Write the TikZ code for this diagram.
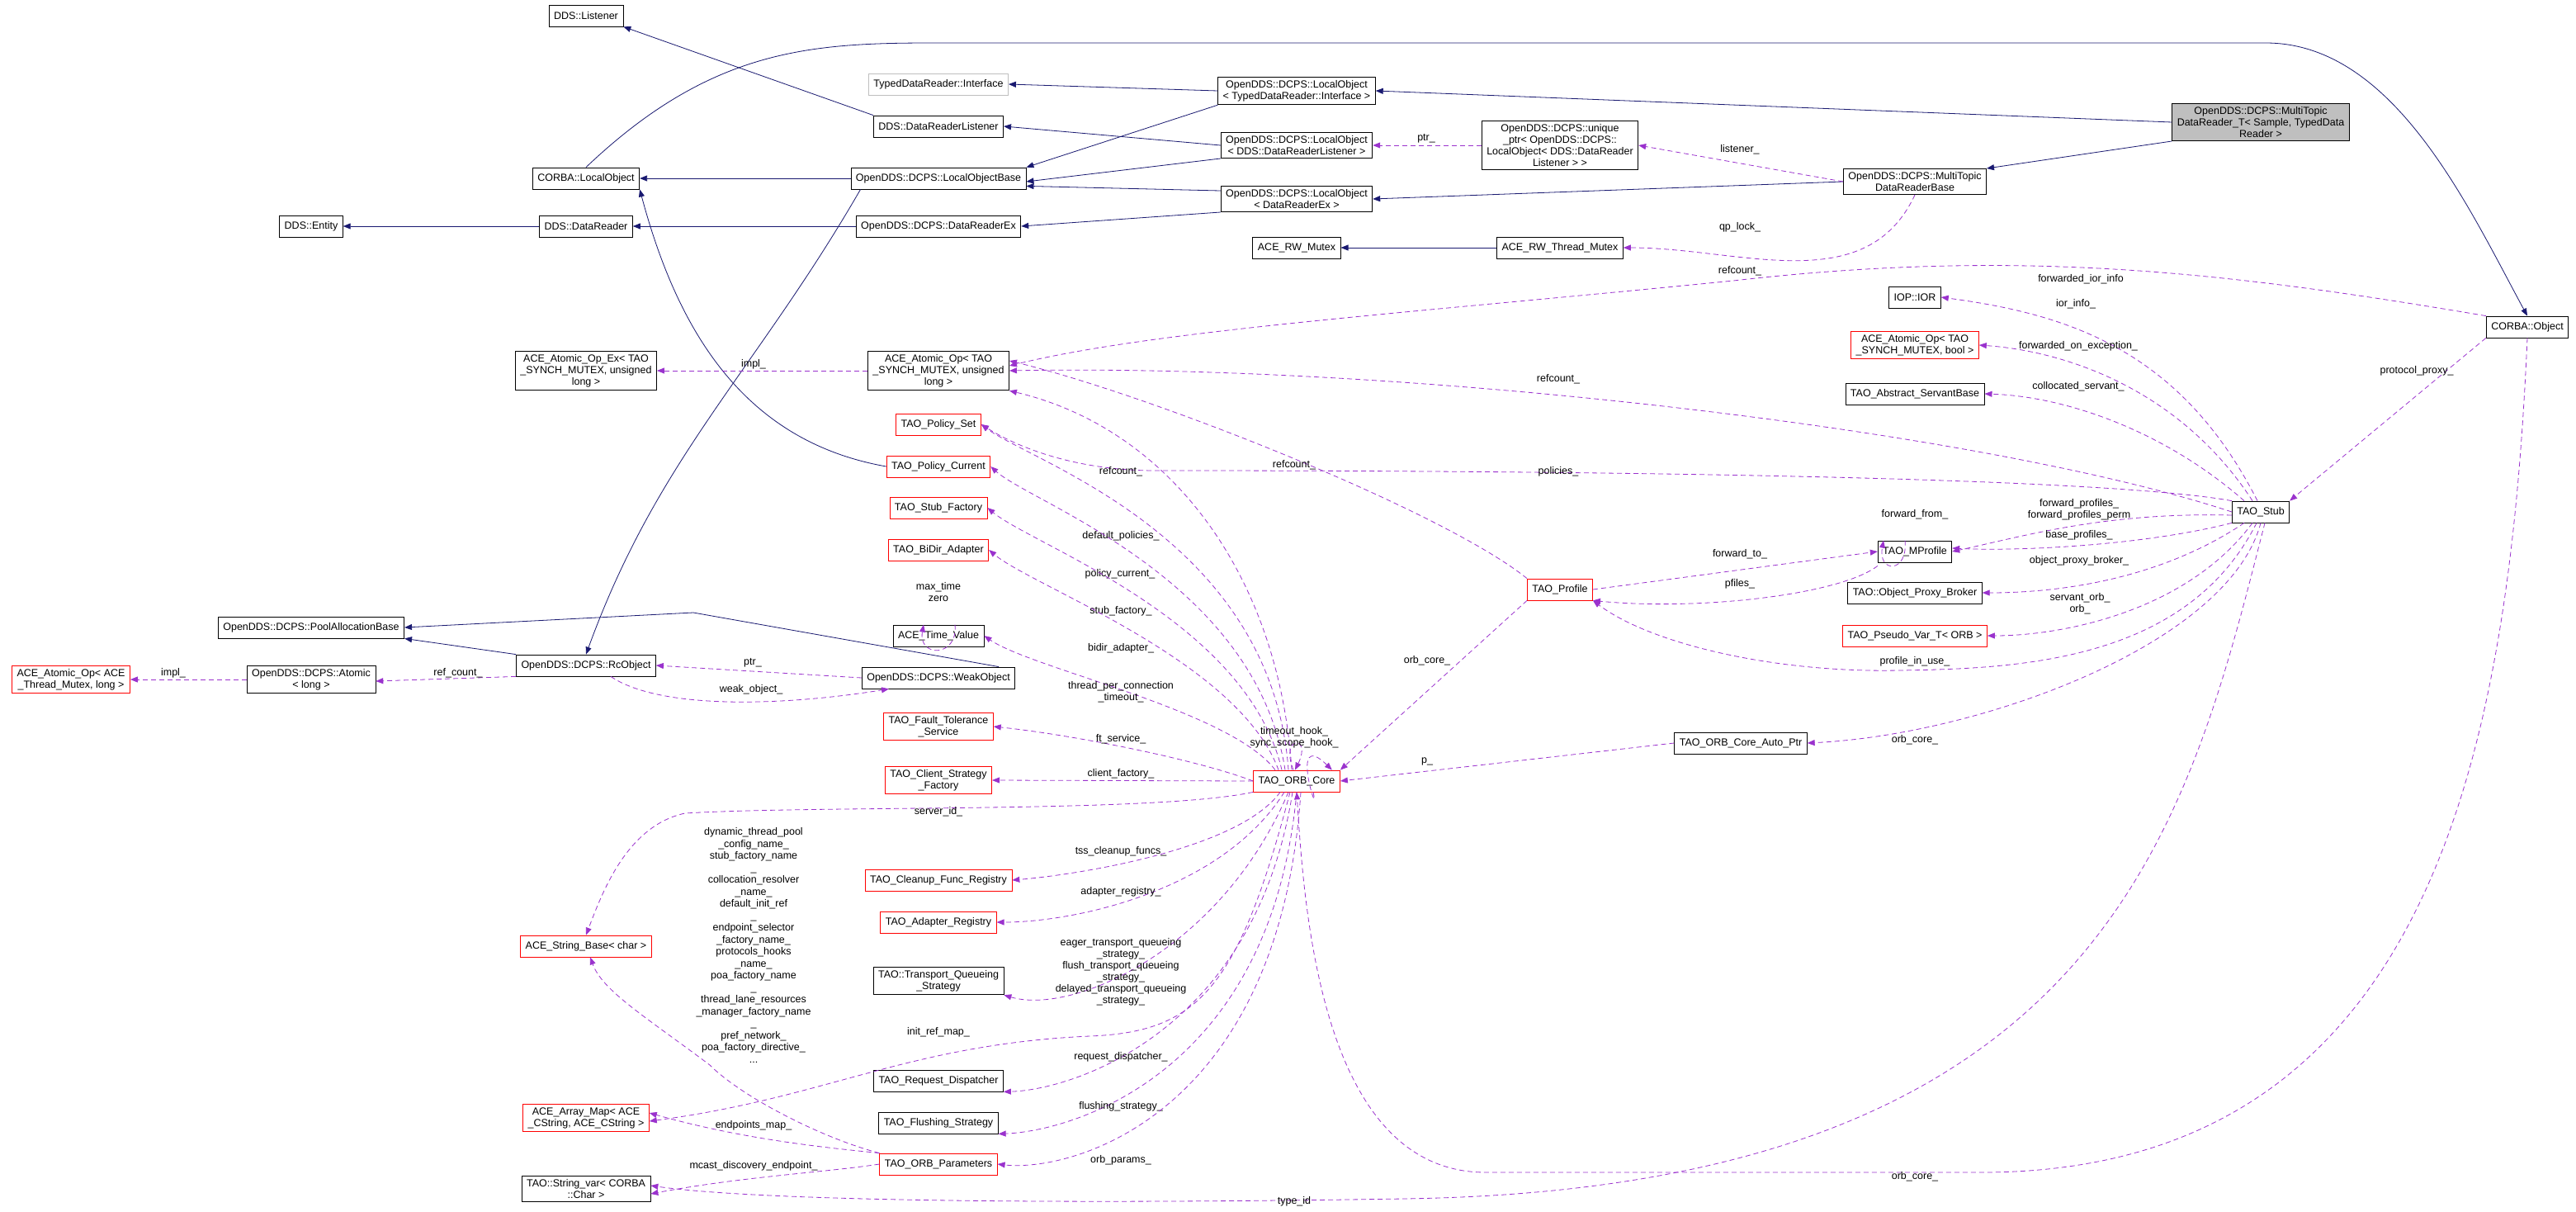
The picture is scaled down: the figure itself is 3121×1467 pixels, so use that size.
\documentclass[tikz,border=0pt]{standalone}
\usepackage{fontspec}
\setmainfont{Liberation Sans}
\usetikzlibrary{arrows.meta}
\definecolor{inhcol}{HTML}{191970}
\definecolor{usecol}{HTML}{9A32CD}
\begin{document}
\begin{tikzpicture}[x=1pt,y=-1pt,
  every node/.style={font=\fontsize{12.5}{14}\selectfont},
  cls/.style={draw=black,fill=white,thick,minimum height=26pt,inner xsep=6pt,inner ysep=4pt,align=center},
  redcls/.style={cls,draw=red},
  greycls/.style={cls,draw=black!25},
  inh/.style={draw=inhcol,thick,-{Triangle[length=9pt,width=7pt]}},
  use/.style={draw=usecol,thick,dashed,dash pattern=on 6pt off 4pt,-{Triangle[length=9pt,width=7pt]}},
  lbl/.style={align=center,inner sep=1pt}]
\useasboundingbox (0,0) rectangle (3121,1467);

% classes
\node[cls] (listener) at (710,19) {DDS::Listener};
\node[greycls] (tdrif) at (1137,102) {TypedDataReader::Interface};
\node[cls] (drlistener) at (1137,153) {DDS::DataReaderListener};
\node[cls] (localobj) at (710,216) {CORBA::LocalObject};
\node[cls] (lobase) at (1137,216) {OpenDDS::DCPS::LocalObjectBase};
\node[cls] (entity) at (377,274) {DDS::Entity};
\node[cls] (datareader) at (710,274) {DDS::DataReader};
\node[cls] (drex) at (1137,274) {OpenDDS::DCPS::DataReaderEx};
\node[cls] (atomicex) at (710,449) {ACE\_Atomic\_Op\_Ex< TAO\\\_SYNCH\_MUTEX, unsigned\\ long >};
\node[cls] (atomicul) at (1137,449) {ACE\_Atomic\_Op< TAO\\\_SYNCH\_MUTEX, unsigned\\ long >};
\node[cls] (lotdr) at (1571,110) {OpenDDS::DCPS::LocalObject\\< TypedDataReader::Interface >};
\node[cls] (lodrl) at (1571,176) {OpenDDS::DCPS::LocalObject\\< DDS::DataReaderListener >};
\node[cls] (lodrex) at (1571,241) {OpenDDS::DCPS::LocalObject\\< DataReaderEx >};
\node[cls] (uniqptr) at (1890,176) {OpenDDS::DCPS::unique\\\_ptr< OpenDDS::DCPS::\\LocalObject< DDS::DataReader\\Listener > >};
\node[cls] (mtbase) at (2320,220) {OpenDDS::DCPS::MultiTopic\\DataReaderBase};
\node[cls] (rwmutex) at (1571,300) {ACE\_RW\_Mutex};
\node[cls] (rwtmutex) at (1890,300) {ACE\_RW\_Thread\_Mutex};
\node[cls] (ior) at (2320,360) {IOP::IOR};
\node[redcls] (atomicbool) at (2320,418) {ACE\_Atomic\_Op< TAO\\\_SYNCH\_MUTEX, bool >};
\node[cls] (servantbase) at (2320,477) {TAO\_Abstract\_ServantBase};
\node[cls,fill=black!25] (mtreader) at (2739,148) {OpenDDS::DCPS::MultiTopic\\DataReader\_T< Sample, TypedData\\Reader >};
\node[cls] (corbaobj) at (3062,396) {CORBA::Object};
\node[cls] (stub) at (2739,620) {TAO\_Stub};
\node[redcls] (policyset) at (1137,514) {TAO\_Policy\_Set};
\node[redcls] (policycur) at (1137,565) {TAO\_Policy\_Current};
\node[redcls] (stubfac) at (1137,615) {TAO\_Stub\_Factory};
\node[redcls] (bidir) at (1137,666) {TAO\_BiDir\_Adapter};
\node[cls] (timeval) at (1137,770) {ACE\_Time\_Value};
\node[cls] (poolalloc) at (377,760) {OpenDDS::DCPS::PoolAllocationBase};
\node[redcls] (acelong) at (86,823) {ACE\_Atomic\_Op< ACE\\\_Thread\_Mutex, long >};
\node[cls] (atomiclong) at (377,823) {OpenDDS::DCPS::Atomic\\< long >};
\node[cls] (rcobj) at (710,806) {OpenDDS::DCPS::RcObject};
\node[cls] (weakobj) at (1137,821) {OpenDDS::DCPS::WeakObject};
\node[redcls] (ftservice) at (1137,880) {TAO\_Fault\_Tolerance\\\_Service};
\node[redcls] (clientfac) at (1137,945) {TAO\_Client\_Strategy\\\_Factory};
\node[redcls] (strbase) at (710,1146) {ACE\_String\_Base< char >};
\node[redcls] (cleanup) at (1137,1066) {TAO\_Cleanup\_Func\_Registry};
\node[redcls] (adapterreg) at (1137,1117) {TAO\_Adapter\_Registry};
\node[cls] (tqstrategy) at (1137,1188) {TAO::Transport\_Queueing\\\_Strategy};
\node[cls] (reqdisp) at (1137,1309) {TAO\_Request\_Dispatcher};
\node[cls] (flushstrat) at (1137,1360) {TAO\_Flushing\_Strategy};
\node[redcls] (orbparams) at (1137,1410) {TAO\_ORB\_Parameters};
\node[redcls] (arraymap) at (710,1354) {ACE\_Array\_Map< ACE\\\_CString, ACE\_CString >};
\node[cls] (stringvar) at (710,1440) {TAO::String\_var< CORBA\\::Char >};
\node[redcls] (orbcore) at (1571,946) {TAO\_ORB\_Core};
\node[redcls] (profile) at (1890,714) {TAO\_Profile};
\node[cls] (mprofile) at (2320,668) {TAO\_MProfile};
\node[cls] (proxybroker) at (2320,718) {TAO::Object\_Proxy\_Broker};
\node[redcls] (pseudovar) at (2320,770) {TAO\_Pseudo\_Var\_T< ORB >};
\node[cls] (autoptr) at (2109,900) {TAO\_ORB\_Core\_Auto\_Ptr};

% inheritance
\draw[inh] (drlistener.north west) -- (listener.south east);
\draw[inh] (lobase) -- (localobj);
\draw[inh] (localobj.north) .. controls (860,60) and (980,52) .. (1130,52) -- (2745,52) .. controls (2900,52) and (2990,250) .. (corbaobj.north);
\draw[inh] (datareader) -- (entity);
\draw[inh] (drex) -- (datareader);
\draw[inh] (lotdr.west) -- (tdrif.east);
\draw[inh] (lotdr.south west) -- (lobase.north east);
\draw[inh] (lodrl.west) -- (drlistener.east);
\draw[inh] (lodrl.south west) -- ([yshift=-4pt]lobase.east);
\draw[inh] ([yshift=-6pt]lodrex.north west) -- ([yshift=4pt]lobase.south east);
\draw[inh] (lodrex.south west) -- (drex.east);
\draw[inh] (mtbase.west) -- (lodrex.east);
\draw[inh] (mtreader.west) -- (lotdr.east);
\draw[inh] (mtreader.south west) -- (mtbase.north east);
\draw[inh] (rwtmutex) -- (rwmutex);
\draw[inh] ([xshift=12pt]lobase.south west) to[out=-120,in=70] (rcobj.north);
\draw[inh] (policycur.west) to[out=170,in=-75] (localobj.south east);
\draw[inh] (rcobj.north west) -- (poolalloc.south east);
\draw[inh] ([xshift=-20pt]weakobj.north east) -- (840,742) -- (poolalloc.east);

% members
\draw[use] (atomicul) -- (atomicex);
\node[lbl] (limpl) at (913,441) {impl\_};
\draw[use] (uniqptr) -- (lodrl);
\node[lbl] (lptr) at (1728,168) {ptr\_};
\draw[use] (mtbase.west) -- (uniqptr.east);
\node[lbl] (llistener) at (2108,181) {listener\_};
\draw[use] (mtbase.south) to[out=-115,in=0] (rwtmutex.east);
\node[lbl] (lqplock) at (2108,275) {qp\_lock\_};
\draw[use] (corbaobj.north west) .. controls (2700,330) and (2450,300) .. (2100,340) .. controls (1700,380) and (1400,400) .. ([yshift=6pt]atomicul.east);
\node[lbl] (lrefc1) at (2108,328) {refcount\_};
\draw[use] (stub.west) .. controls (2400,520) and (1700,440) .. (atomicul.east);
\node[lbl] (lrefc2) at (1888,459) {refcount\_};
\draw[use] ([xshift=-4pt]stub.north) .. controls (2640,420) and (2500,380) .. (ior.east);
\node[lbl] (lfwdior) at (2521,338) {forwarded\_ior\_info};
\node[lbl] (lior) at (2515,368) {ior\_info\_};
\draw[use] ([xshift=-10pt]stub.north) .. controls (2640,470) and (2500,425) .. (atomicbool.east);
\node[lbl] (lfwdexc) at (2518,419) {forwarded\_on\_exception\_};
\draw[use] ([xshift=-20pt]stub.north) .. controls (2620,520) and (2500,480) .. (servantbase.east);
\node[lbl] (lcoll) at (2518,468) {collocated\_servant\_};
\draw[use] (stub.north west) .. controls (2500,570) and (1600,570) .. (1400,570) .. controls (1300,570) and (1230,540) .. (policyset.east);
\node[lbl] (lpolicies) at (1888,571) {policies\_};
\draw[use] ([yshift=-4pt]stub.west) .. controls (2550,620) and (2450,650) .. (mprofile.east);
\node[lbl] (lfwdprof) at (2519,617) {forward\_profiles\_\\forward\_profiles\_perm};
\draw[use] (stub.south west) .. controls (2600,660) and (2450,668) .. ([yshift=4pt]mprofile.east);
\node[lbl] (lbaseprof) at (2519,648) {base\_profiles\_};
\draw[use] ([xshift=-20pt]stub.south) .. controls (2620,700) and (2500,718) .. (proxybroker.east);
\node[lbl] (lproxy) at (2519,679) {object\_proxy\_broker\_};
\draw[use] ([xshift=-10pt]stub.south) .. controls (2650,740) and (2500,770) .. (pseudovar.east);
\node[lbl] (lservorb) at (2520,731) {servant\_orb\_\\orb\_};
\draw[use] ([xshift=-5pt]stub.south) .. controls (2650,800) and (2450,810) .. (2300,812) .. controls (2150,815) and (2000,780) .. (profile.south east);
\node[lbl] (lprofuse) at (2320,801) {profile\_in\_use\_};
\draw[use] (corbaobj.south west) -- (stub.north east);
\node[lbl] (lprotproxy) at (2928,449) {protocol\_proxy\_};
\draw[use] (stub.south) .. controls (2700,780) and (2400,890) .. (autoptr.east);
\node[lbl] (lorbcore3) at (2320,896) {orb\_core\_};
\draw[use] ([xshift=5pt]stub.south) .. controls (2650,1000) and (2550,1440) .. (1700,1452) .. controls (1200,1460) and (900,1452) .. ([yshift=4pt]stringvar.east);
\node[lbl] (ltypeid) at (1568,1455) {type\_id};
\draw[use] (corbaobj.south) .. controls (3040,900) and (2950,1420) .. (2400,1420) -- (1800,1420) .. controls (1600,1420) and (1580,1100) .. (orbcore.south);
\node[lbl] (lorbcore4) at (2320,1425) {orb\_core\_};
\draw[use] (profile.east) -- (mprofile.west);
\node[lbl] (lfwdto) at (2108,671) {forward\_to\_};
\draw[use] ([yshift=-4pt]mprofile.south west) .. controls (2230,720) and (2060,740) .. (profile.south east);
\node[lbl] (lpfiles) at (2108,707) {pfiles\_};
\draw[use] ([xshift=-12pt]mprofile.north) .. controls ([xshift=-8pt,yshift=-40pt]mprofile.north) and ([xshift=-45pt,yshift=-40pt]mprofile.north) .. ([xshift=-38pt]mprofile.north);
\node[lbl] (lfwdfrom) at (2320,623) {forward\_from\_};
\draw[use] (profile.south west) -- (orbcore.north east);
\node[lbl] (lorbcore1) at (1729,800) {orb\_core\_};
\draw[use] (autoptr.west) -- (orbcore.east);
\node[lbl] (lp) at (1729,922) {p\_};
\draw[use] (profile.north west) .. controls (1750,620) and (1400,480) .. ([yshift=12pt]atomicul.east);
\node[lbl] (lrefc3) at (1568,563) {refcount\_};
\draw[use] ([xshift=-6pt]orbcore.north) .. controls (1550,700) and (1420,520) .. (atomicul.south east);
\node[lbl] (lrefc4) at (1358,571) {refcount\_};
\draw[use] ([xshift=-10pt]orbcore.north) .. controls (1540,650) and (1250,560) .. (policyset.east);
\node[lbl] (ldefpol) at (1358,649) {default\_policies\_};
\draw[use] ([xshift=-14pt]orbcore.north) .. controls (1520,700) and (1250,610) .. (policycur.east);
\node[lbl] (lpolcur) at (1357,695) {policy\_current\_};
\draw[use] ([xshift=-18pt]orbcore.north) .. controls (1510,750) and (1250,660) .. (stubfac.east);
\node[lbl] (lstubfac) at (1358,740) {stub\_factory\_};
\draw[use] ([xshift=-22pt]orbcore.north) .. controls (1500,800) and (1250,710) .. (bidir.east);
\node[lbl] (lbidir) at (1358,785) {bidir\_adapter\_};
\draw[use] ([xshift=-26pt]orbcore.north) .. controls (1490,860) and (1250,810) .. (timeval.east);
\node[lbl] (ltpc) at (1358,838) {thread\_per\_connection\\\_timeout\_};
\draw[use] ([xshift=20pt]timeval.north) .. controls ([xshift=24pt,yshift=-40pt]timeval.north) and ([xshift=-25pt,yshift=-40pt]timeval.north) .. ([xshift=-18pt]timeval.north);
\node[lbl] (lmaxtime) at (1137,717) {max\_time\\zero};
\draw[use] (orbcore.west) .. controls (1450,920) and (1300,890) .. (ftservice.east);
\node[lbl] (lft) at (1358,895) {ft\_service\_};
\draw[use] (orbcore.west) -- (clientfac.east);
\node[lbl] (lclient) at (1358,937) {client\_factory\_};
\draw[use] (orbcore.south west) .. controls (1400,985) and (1000,975) .. (830,985) .. controls (760,1000) and (730,1080) .. (strbase.north);
\node[lbl] (lserverid) at (1137,983) {server\_id\_};
\draw[use] ([xshift=-20pt]orbcore.south) .. controls (1500,1030) and (1300,1060) .. (cleanup.east);
\node[lbl] (ltss) at (1358,1031) {tss\_cleanup\_funcs\_};
\draw[use] ([xshift=-15pt]orbcore.south) .. controls (1480,1080) and (1300,1117) .. (adapterreg.east);
\node[lbl] (ladapter) at (1358,1080) {adapter\_registry\_};
\draw[use] ([xshift=-10pt]orbcore.south) .. controls (1480,1150) and (1300,1230) .. (tqstrategy.south east);
\node[lbl] (ltq) at (1358,1177) {eager\_transport\_queueing\\\_strategy\_\\flush\_transport\_queueing\\\_strategy\_\\delayed\_transport\_queueing\\\_strategy\_};
\draw[use] ([xshift=-8pt]orbcore.south) .. controls (1500,1200) and (1450,1250) .. (1320,1255) .. controls (1100,1265) and (1000,1330) .. ([yshift=-4pt]arraymap.east);
\node[lbl] (linitref) at (1137,1250) {init\_ref\_map\_};
\draw[use] ([xshift=-5pt]orbcore.south) .. controls (1520,1250) and (1300,1320) .. (reqdisp.south east);
\node[lbl] (lreqdisp) at (1358,1280) {request\_dispatcher\_};
\draw[use] (orbcore.south) .. controls (1540,1300) and (1300,1370) .. (flushstrat.south east);
\node[lbl] (lflush) at (1358,1340) {flushing\_strategy\_};
\draw[use] ([xshift=5pt]orbcore.south) .. controls (1550,1350) and (1300,1420) .. (orbparams.east);
\node[lbl] (lorbparams) at (1358,1405) {orb\_params\_};
\draw[use] ([xshift=-4pt]orbcore.north) .. controls (1550,890) and (1590,890) .. ([xshift=-2pt]orbcore.north);
\draw[use] ([xshift=20pt]orbcore.south) .. controls (1600,1000) and (1560,880) .. ([xshift=-10pt]orbcore.north east);
\node[lbl] (lhook) at (1568,893) {timeout\_hook\_\\sync\_scope\_hook\_};
\draw[use] (orbparams.north west) .. controls (1000,1380) and (900,1330) .. (860,1290) .. controls (780,1230) and (730,1200) .. ([xshift=5pt]strbase.south);
\node[lbl,font=\fontsize{12.5}{14.5}\selectfont] (lstrnames) at (913,1145) {dynamic\_thread\_pool\\\_config\_name\_\\stub\_factory\_name\\\_\\collocation\_resolver\\\_name\_\\default\_init\_ref\\\_\\endpoint\_selector\\\_factory\_name\_\\protocols\_hooks\\\_name\_\\poa\_factory\_name\\\_\\thread\_lane\_resources\\\_manager\_factory\_name\\\_\\pref\_network\_\\poa\_factory\_directive\_\\...};
\draw[use] (orbparams.north west) .. controls (1000,1390) and (900,1380) .. ([yshift=6pt]arraymap.east);
\node[lbl] (lendpoints) at (913,1363) {endpoints\_map\_};
\draw[use] (orbparams.west) .. controls (1000,1420) and (900,1425) .. ([yshift=-6pt]stringvar.east);
\node[lbl] (lmcast) at (913,1412) {mcast\_discovery\_endpoint\_};
\draw[use] (atomiclong) -- (acelong);
\node[lbl] (limpl2) at (210,815) {impl\_};
\draw[use] (rcobj.south west) -- ([yshift=-2pt]atomiclong.east);
\node[lbl] (lrefcount) at (555,815) {ref\_count\_};
\draw[use] (weakobj.west) -- (rcobj.east);
\node[lbl] (lptr2) at (912,803) {ptr\_};
\draw[use] ([xshift=30pt]rcobj.south) .. controls (800,860) and (950,855) .. ([xshift=-60pt]weakobj.south);
\node[lbl] (lweak) at (910,835) {weak\_object\_};
\end{tikzpicture}
\end{document}
